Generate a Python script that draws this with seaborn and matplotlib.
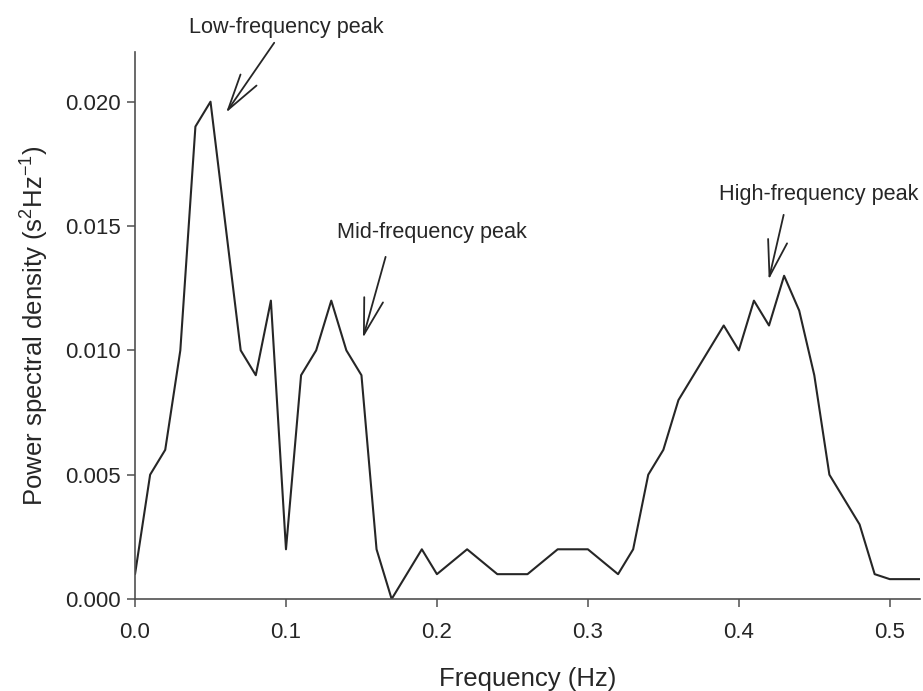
import matplotlib
matplotlib.use("Agg")
import matplotlib.pyplot as plt
import seaborn as sns
import pandas as pd

# Spectral estimate of heart-rate variability
frequency_hz = [0.00, 0.01, 0.02, 0.03, 0.04, 0.05, 0.06, 0.07, 0.08, 0.09,
                0.10, 0.11, 0.12, 0.13, 0.14, 0.15, 0.16, 0.17, 0.18, 0.19,
                0.20, 0.21, 0.22, 0.23, 0.24, 0.25, 0.26, 0.27, 0.28, 0.29,
                0.30, 0.31, 0.32, 0.33, 0.34, 0.35, 0.36, 0.37, 0.38, 0.39,
                0.40, 0.41, 0.42, 0.43, 0.44, 0.45, 0.46, 0.47, 0.48, 0.49,
                0.50, 0.51, 0.52]
psd = [0.0010, 0.0050, 0.0060, 0.0100, 0.0190, 0.0200, 0.0150, 0.0100, 0.0090, 0.0120,
       0.0020, 0.0090, 0.0100, 0.0120, 0.0100, 0.0090, 0.0020, 0.0000, 0.0010, 0.0020,
       0.0010, 0.0015, 0.0020, 0.0015, 0.0010, 0.0010, 0.0010, 0.0015, 0.0020, 0.0020,
       0.0020, 0.0015, 0.0010, 0.0020, 0.0050, 0.0060, 0.0080, 0.0090, 0.0100, 0.0110,
       0.0100, 0.0120, 0.0110, 0.0130, 0.0116, 0.0090, 0.0050, 0.0040, 0.0030, 0.0010,
       0.0008, 0.0008, 0.0008]

x_ticks = [0.0, 0.1, 0.2, 0.3, 0.4, 0.5]
x_tick_labels = ["0.0", "0.1", "0.2", "0.3", "0.4", "0.5"]
y_ticks = [0.000, 0.005, 0.010, 0.015, 0.020]
y_tick_labels = ["0.000", "0.005", "0.010", "0.015", "0.020"]

# Peak labels: text, arrow tip (x, y), arrow tail (x, y), text centre (x, y)
peak_labels = ["Low-frequency peak", "Mid-frequency peak", "High-frequency peak"]
arrow_tips = [(0.0603, 0.01956), (0.1510, 0.01050), (0.4198, 0.01284)]
arrow_tails = [(0.0922, 0.02237), (0.1660, 0.01376), (0.4297, 0.01545)]
label_pos = [(0.1000, 0.02300), (0.1970, 0.01475), (0.4530, 0.01628)]

df = pd.DataFrame({"Frequency": frequency_hz, "PSD": psd})

sns.set_style("ticks")
plt.rcParams["font.family"] = ["Liberation Sans", "DejaVu Sans"]
plt.rcParams["mathtext.fontset"] = "custom"
plt.rcParams["mathtext.rm"] = "Liberation Sans"
plt.rcParams["mathtext.it"] = "Liberation Sans:italic"

ink = "#262626"
axis_grey = "#505050"

fig = plt.figure(figsize=(9.23, 6.91), dpi=100)
ax = fig.add_axes([0.1463, 0.1331, 0.8504, 0.7917])

sns.lineplot(data=df, x="Frequency", y="PSD", ax=ax, color=ink, linewidth=1.5)

ax.set_xlim(0, 0.52)
ax.set_ylim(0, 0.022)
ax.set_xticks(x_ticks)
ax.set_xticklabels(x_tick_labels)
ax.set_yticks(y_ticks)
ax.set_yticklabels(y_tick_labels)

for side in ("top", "right"):
    ax.spines[side].set_visible(False)
for side in ("left", "bottom"):
    ax.spines[side].set_color(axis_grey)
    ax.spines[side].set_linewidth(1.2)

ax.tick_params(axis="both", direction="out", length=5.5, width=1.1,
               color=axis_grey, labelsize=16, labelcolor=ink)
ax.tick_params(axis="x", pad=11)
ax.tick_params(axis="y", pad=5)

ax.set_xlabel("Frequency (Hz)", fontsize=18.5, color=ink, labelpad=17)
ax.set_ylabel(r"Power spectral density (s$^2$Hz$^{-1}$)", fontsize=18.5,
              color=ink, labelpad=10)

for text, tip, tail, pos in zip(peak_labels, arrow_tips, arrow_tails, label_pos):
    ax.annotate("", xy=tip, xytext=tail, annotation_clip=False,
                arrowprops=dict(arrowstyle="->, head_length=1.3, head_width=0.35",
                                mutation_scale=20, color=ink, lw=1.3,
                                shrinkA=0, shrinkB=0))
    ax.text(pos[0], pos[1], text, ha="center", va="center", fontsize=15.6,
            color=ink, clip_on=False)

fig.savefig("out.png", dpi=100)
